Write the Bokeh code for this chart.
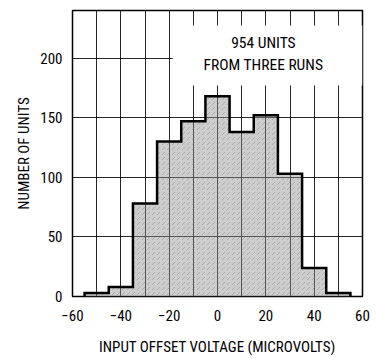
from bokeh.plotting import figure
from bokeh.models import FixedTicker, BoxAnnotation, Label, Range1d
from bokeh.embed import file_html
from bokeh.resources import INLINE

# data
bin_left = [-55, -45, -35, -25, -15, -5, 5, 15, 25, 35, 45]
bin_right = [-45, -35, -25, -15, -5, 5, 15, 25, 35, 45, 55]
counts = [3, 8, 78, 130, 147, 168, 138, 152, 103, 24, 3]
x_ticks = [-60, -40, -20, 0, 20, 40, 60]
x_tick_labels = ["\u221260", "\u221240", "\u221220", "0", "20", "40", "60"]
y_ticks = [0, 50, 100, 150, 200]
annotation_lines = ["954 UNITS", "FROM THREE RUNS"]

FONT = "Roboto Condensed"

p = figure(width=378, height=358, output_backend="svg", toolbar_location=None,
           x_range=Range1d(-60, 60), y_range=Range1d(0, 240),
           min_border_left=72, min_border_right=16, min_border_top=10, min_border_bottom=60)

p.outline_line_color = "black"
p.outline_line_width = 1.5
p.background_fill_color = "white"
p.border_fill_color = "white"

# grid
p.xgrid.ticker = FixedTicker(ticks=list(range(-60, 61, 10)))
p.ygrid.ticker = FixedTicker(ticks=list(range(0, 241, 50)))
for g in (p.xgrid, p.ygrid):
    g.grid_line_color = "black"
    g.grid_line_width = 1
    g.grid_line_alpha = 0.85

# axes
p.xaxis.ticker = FixedTicker(ticks=x_ticks)
p.xaxis.major_label_overrides = {t: l for t, l in zip(x_ticks, x_tick_labels)}
p.yaxis.ticker = FixedTicker(ticks=y_ticks)
for ax in (p.xaxis, p.yaxis):
    ax.axis_line_color = None
    ax.major_tick_line_color = None
    ax.minor_tick_line_color = None
    ax.major_tick_out = 0
    ax.major_tick_in = 0
    ax.minor_tick_out = 0
    ax.minor_tick_in = 0
    ax.major_label_text_font = FONT
    ax.major_label_text_font_size = "15px"
    ax.major_label_text_color = "black"
    ax.axis_label_text_font = FONT
    ax.axis_label_text_font_size = "15px"
    ax.axis_label_text_font_style = "normal"
    ax.axis_label_text_color = "black"
p.xaxis.axis_label = "INPUT OFFSET VOLTAGE (MICROVOLTS)"
p.yaxis.axis_label = "NUMBER OF UNITS"
p.xaxis.major_label_standoff = 13
p.xaxis.axis_label_standoff = 14
p.yaxis.major_label_standoff = 10
p.yaxis.axis_label_standoff = 4

# histogram fill
p.quad(left=bin_left, right=bin_right, bottom=0, top=counts,
       fill_color="#909090", fill_alpha=0.45, line_color=None,
       hatch_pattern="right_diagonal_dash", hatch_color="#707070",
       hatch_scale=5, hatch_weight=0.6, hatch_alpha=0.6)

# step outline
xs = [bin_left[0]]
ys = [0]
for l, r, c in zip(bin_left, bin_right, counts):
    xs += [l, r]
    ys += [c, c]
xs.append(bin_right[-1])
ys.append(0)
p.line(xs, ys, line_color="black", line_width=2.5, line_join="miter")

# annotation box
box = BoxAnnotation(left=-18.5, right=60, bottom=177, top=227.5,
                    fill_color="white", fill_alpha=1.0, line_color=None)
p.add_layout(box)
for i, txt in enumerate(annotation_lines):
    p.add_layout(Label(x=19, y=212.5 - i * 18.5, text=txt, text_align="center",
                       text_baseline="middle", text_font=FONT,
                       text_font_size="15.5px", text_color="black"))

open("out.html", "w").write(file_html(p, INLINE))
